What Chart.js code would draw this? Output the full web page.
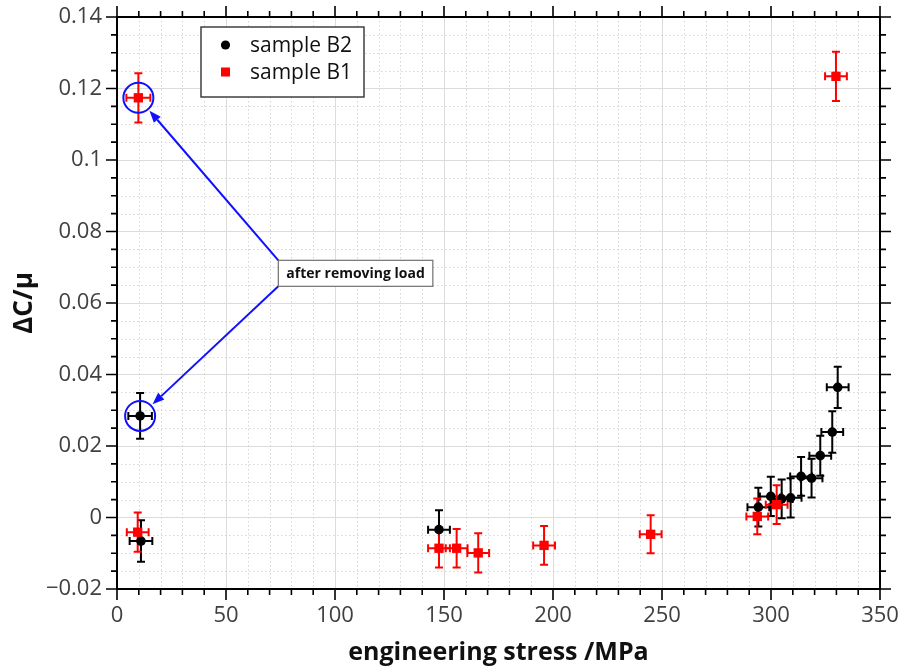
<!DOCTYPE html>
<html>
<head>
<meta charset="utf-8">
<script src="https://cdn.jsdelivr.net/npm/chart.js@4.4.1/dist/chart.umd.min.js"></script>
<style>
html, body { margin: 0; padding: 0; background: #fff; }
</style>
</head>
<body>
<canvas id="chart" width="903" height="668"></canvas>
<script>
// --- DATA ---
const b2Stress    = [11.0, 10.6, 147.7, 294.2, 299.9, 304.9, 309.0, 313.8, 318.6, 322.6, 328.1, 330.6];
const b2Delta     = [-0.0066, 0.0284, -0.0034, 0.0029, 0.0059, 0.0052, 0.0055, 0.0115, 0.0110, 0.0173, 0.0239, 0.0364];
const b2StressErr = [5.2, 5.4, 5, 5, 5, 5, 5, 5, 5, 5, 5, 5];
const b2DeltaErr  = [0.0058, 0.0064, 0.0054, 0.0054, 0.0055, 0.0054, 0.0055, 0.0054, 0.0054, 0.0056, 0.0058, 0.0058];

const b1Stress    = [9.8, 9.5, 147.7, 155.8, 165.7, 195.9, 244.8, 293.7, 302.6, 329.8];
const b1Delta     = [0.1174, -0.0041, -0.0086, -0.0086, -0.0099, -0.0078, -0.0047, 0.0003, 0.0036, 0.1234];
const b1StressErr = [5.5, 5, 5, 5, 5, 5, 5, 5, 5, 5];
const b1DeltaErr  = [0.0069, 0.0055, 0.0054, 0.0054, 0.0055, 0.0054, 0.0053, 0.0050, 0.0054, 0.0069];

const xTicks = [0, 50, 100, 150, 200, 250, 300, 350];
const yTicks = [-0.02, 0, 0.02, 0.04, 0.06, 0.08, 0.1, 0.12, 0.14];
const yTickLabels = ['\u22120.02', '0', '0.02', '0.04', '0.06', '0.08', '0.1', '0.12', '0.14'];

// annotation: text box anchored at (stress, delta), arrows to circled points
const noteText = 'after removing load';
const noteAt = [74.0, 0.0683];
const circled = [[1, 0], [0, 1]];   // [dataset, index]: B1 first point, B2 second point

const FONT = '"Open Sans", "DejaVu Sans", sans-serif';

// --- HELPERS ---
function eachMinor(from, to, step, skip, fn) {
    const n = Math.round((to - from) / step);
    for (let i = 0; i <= n; i++) {
        const v = from + i * step;
        if (Math.abs(v / skip - Math.round(v / skip)) < 1e-6) continue;
        fn(v);
    }
}

function arrow(ctx, x0, y0, x1, y1) {
    const a = Math.atan2(y1 - y0, x1 - x0);
    const L = 12, W = 4.5;
    const bx = x1 - L * Math.cos(a), by = y1 - L * Math.sin(a);
    ctx.beginPath();
    ctx.moveTo(x0, y0);
    ctx.lineTo(bx, by);
    ctx.stroke();
    ctx.beginPath();
    ctx.moveTo(x1, y1);
    ctx.lineTo(bx + W * Math.sin(a), by - W * Math.cos(a));
    ctx.lineTo(bx - W * Math.sin(a), by + W * Math.cos(a));
    ctx.closePath();
    ctx.fill();
}

const errs = [
    { sx: b2StressErr, sy: b2DeltaErr },
    { sx: b1StressErr, sy: b1DeltaErr }
];

const decor = {
    id: 'decor',
    beforeDatasetsDraw(chart) {
        const { ctx, chartArea: a, scales: { x, y } } = chart;
        ctx.save();
        // dotted minor grid
        ctx.strokeStyle = '#d4d4d4';
        ctx.lineWidth = 1;
        ctx.setLineDash([1.5, 2.5]);
        eachMinor(0, 350, 10, 50, v => {
            const px = Math.round(x.getPixelForValue(v)) + 0.5;
            ctx.beginPath(); ctx.moveTo(px, a.top); ctx.lineTo(px, a.bottom); ctx.stroke();
        });
        eachMinor(-0.02, 0.14, 0.005, 0.02, v => {
            const py = Math.round(y.getPixelForValue(v)) + 0.5;
            ctx.beginPath(); ctx.moveTo(a.left, py); ctx.lineTo(a.right, py); ctx.stroke();
        });
        ctx.setLineDash([]);

        // error bars
        chart.data.datasets.forEach((ds, di) => {
            ctx.strokeStyle = ds.borderColor;
            ctx.lineWidth = 2;
            const cap = 4;
            ds.data.forEach((p, i) => {
                const cx = x.getPixelForValue(p.x), cy = y.getPixelForValue(p.y);
                const xl = x.getPixelForValue(p.x - errs[di].sx[i]);
                const xr = x.getPixelForValue(p.x + errs[di].sx[i]);
                const yt = y.getPixelForValue(p.y + errs[di].sy[i]);
                const yb = y.getPixelForValue(p.y - errs[di].sy[i]);
                ctx.beginPath();
                ctx.moveTo(xl, cy); ctx.lineTo(xr, cy);
                ctx.moveTo(xl, cy - cap); ctx.lineTo(xl, cy + cap);
                ctx.moveTo(xr, cy - cap); ctx.lineTo(xr, cy + cap);
                ctx.moveTo(cx, yt); ctx.lineTo(cx, yb);
                ctx.moveTo(cx - cap, yt); ctx.lineTo(cx + cap, yt);
                ctx.moveTo(cx - cap, yb); ctx.lineTo(cx + cap, yb);
                ctx.stroke();
            });
        });
        ctx.restore();
    },
    afterDatasetsDraw(chart) {
        const { ctx, chartArea: a, scales: { x, y } } = chart;
        ctx.save();

        // frame and ticks on all four sides (outward)
        ctx.strokeStyle = '#000';
        ctx.lineWidth = 2;
        ctx.strokeRect(a.left, a.top, a.right - a.left, a.bottom - a.top);
        ctx.lineWidth = 1.6;
        const tick = (v, len, horiz) => {
            ctx.beginPath();
            if (horiz) {
                const px = x.getPixelForValue(v);
                ctx.moveTo(px, a.bottom); ctx.lineTo(px, a.bottom + len);
                ctx.moveTo(px, a.top); ctx.lineTo(px, a.top - len);
            } else {
                const py = y.getPixelForValue(v);
                ctx.moveTo(a.left, py); ctx.lineTo(a.left - len, py);
                ctx.moveTo(a.right, py); ctx.lineTo(a.right + len, py);
            }
            ctx.stroke();
        };
        xTicks.forEach(v => tick(v, 11, true));
        eachMinor(0, 350, 10, 50, v => tick(v, 6, true));
        yTicks.forEach(v => tick(v, 11, false));
        eachMinor(-0.02, 0.14, 0.005, 0.02, v => tick(v, 6, false));

        // annotation box
        ctx.font = 'bold 14px ' + FONT;
        const tw = ctx.measureText(noteText).width;
        const bx = x.getPixelForValue(noteAt[0]);
        const by = y.getPixelForValue(noteAt[1]);
        const bw = tw + 16, bh = 26;
        const top = by - bh / 2, bot = by + bh / 2;

        // circles and arrows
        ctx.strokeStyle = '#1010ff';
        ctx.fillStyle = '#1010ff';
        ctx.lineWidth = 2;
        const R = 15;
        circled.forEach(([di, i], k) => {
            const p = chart.data.datasets[di].data[i];
            const cx = x.getPixelForValue(p.x), cy = y.getPixelForValue(p.y);
            ctx.beginPath(); ctx.arc(cx, cy, R, 0, Math.PI * 2); ctx.stroke();
            const sy = k === 0 ? top : bot;
            const ang = Math.atan2(sy - cy, bx - cx);
            arrow(ctx, bx, sy, cx + (R + 2) * Math.cos(ang), cy + (R + 2) * Math.sin(ang));
        });

        ctx.fillStyle = '#fff';
        ctx.fillRect(bx, top, bw, bh);
        ctx.strokeStyle = '#707070';
        ctx.lineWidth = 1.2;
        ctx.strokeRect(bx, top, bw, bh);
        ctx.fillStyle = '#111';
        ctx.textBaseline = 'middle';
        ctx.textAlign = 'left';
        ctx.fillText(noteText, bx + 8, by + 0.5);

        // legend
        const lx = a.left + 84, ly = a.top + 10;
        ctx.fillStyle = '#fff';
        ctx.fillRect(lx, ly, 163, 70);
        ctx.strokeStyle = '#333';
        ctx.lineWidth = 1.4;
        ctx.strokeRect(lx, ly, 163, 70);
        ctx.font = '21px ' + FONT;
        chart.data.datasets.forEach((ds, k) => {
            const ry = ly + 18 + k * 27;
            ctx.fillStyle = ds.backgroundColor;
            if (ds.pointStyle === 'rect') {
                ctx.fillRect(lx + 20, ry - 4.5, 9, 9);
            } else {
                ctx.beginPath(); ctx.arc(lx + 24.5, ry, 4.6, 0, Math.PI * 2); ctx.fill();
            }
            ctx.fillStyle = '#111';
            ctx.fillText(ds.label, lx + 49, ry + 1);
        });
        ctx.restore();
    }
};

const toPts = (xs, ys) => xs.map((v, i) => ({ x: v, y: ys[i] }));

new Chart(document.getElementById('chart'), {
    type: 'scatter',
    data: {
        datasets: [
            {
                label: 'sample B2',
                data: toPts(b2Stress, b2Delta),
                pointStyle: 'circle',
                pointRadius: 4.8,
                backgroundColor: '#000',
                borderColor: '#000',
                borderWidth: 0,
                order: 1
            },
            {
                label: 'sample B1',
                data: toPts(b1Stress, b1Delta),
                pointStyle: 'rect',
                pointRadius: 6.6,
                backgroundColor: '#ff0000',
                borderColor: '#ff0000',
                borderWidth: 0,
                order: 0
            }
        ]
    },
    options: {
        responsive: false,
        animation: false,
        events: [],
        layout: { padding: { top: 17, right: 23, left: 0, bottom: 0 } },
        plugins: { legend: { display: false }, tooltip: { enabled: false } },
        scales: {
            x: {
                type: 'linear',
                min: 0, max: 350,
                afterBuildTicks: s => { s.ticks = xTicks.map(v => ({ value: v })); },
                afterFit: s => { s.height = 79; s.paddingLeft = 0; s.paddingRight = 0; },
                grid: { color: '#dcdcdc', lineWidth: 1, drawTicks: false },
                border: { display: false },
                ticks: { padding: 14, color: '#404040', font: { family: FONT, size: 22 }, maxRotation: 0, autoSkip: false },
                title: { display: true, text: 'engineering stress /MPa', color: '#111',
                         font: { family: FONT, size: 25, weight: 'bold' }, padding: { top: 0, bottom: 0 } }
            },
            y: {
                type: 'linear',
                min: -0.02, max: 0.14,
                afterBuildTicks: s => { s.ticks = yTicks.map(v => ({ value: v })); },
                afterFit: s => { s.width = 117; s.paddingTop = 0; s.paddingBottom = 0; },
                grid: { color: '#dcdcdc', lineWidth: 1, drawTicks: false },
                border: { display: false },
                ticks: { padding: 15, color: '#404040', font: { family: FONT, size: 22 },
                         autoSkip: false, callback: (v, i) => yTickLabels[i] },
                title: { display: true, text: '\u0394C/\u03bc', color: '#111',
                         font: { family: FONT, size: 26, weight: 'bold' }, padding: { top: 9, bottom: 0 } }
            }
        }
    },
    plugins: [decor]
});
</script>
</body>
</html>
